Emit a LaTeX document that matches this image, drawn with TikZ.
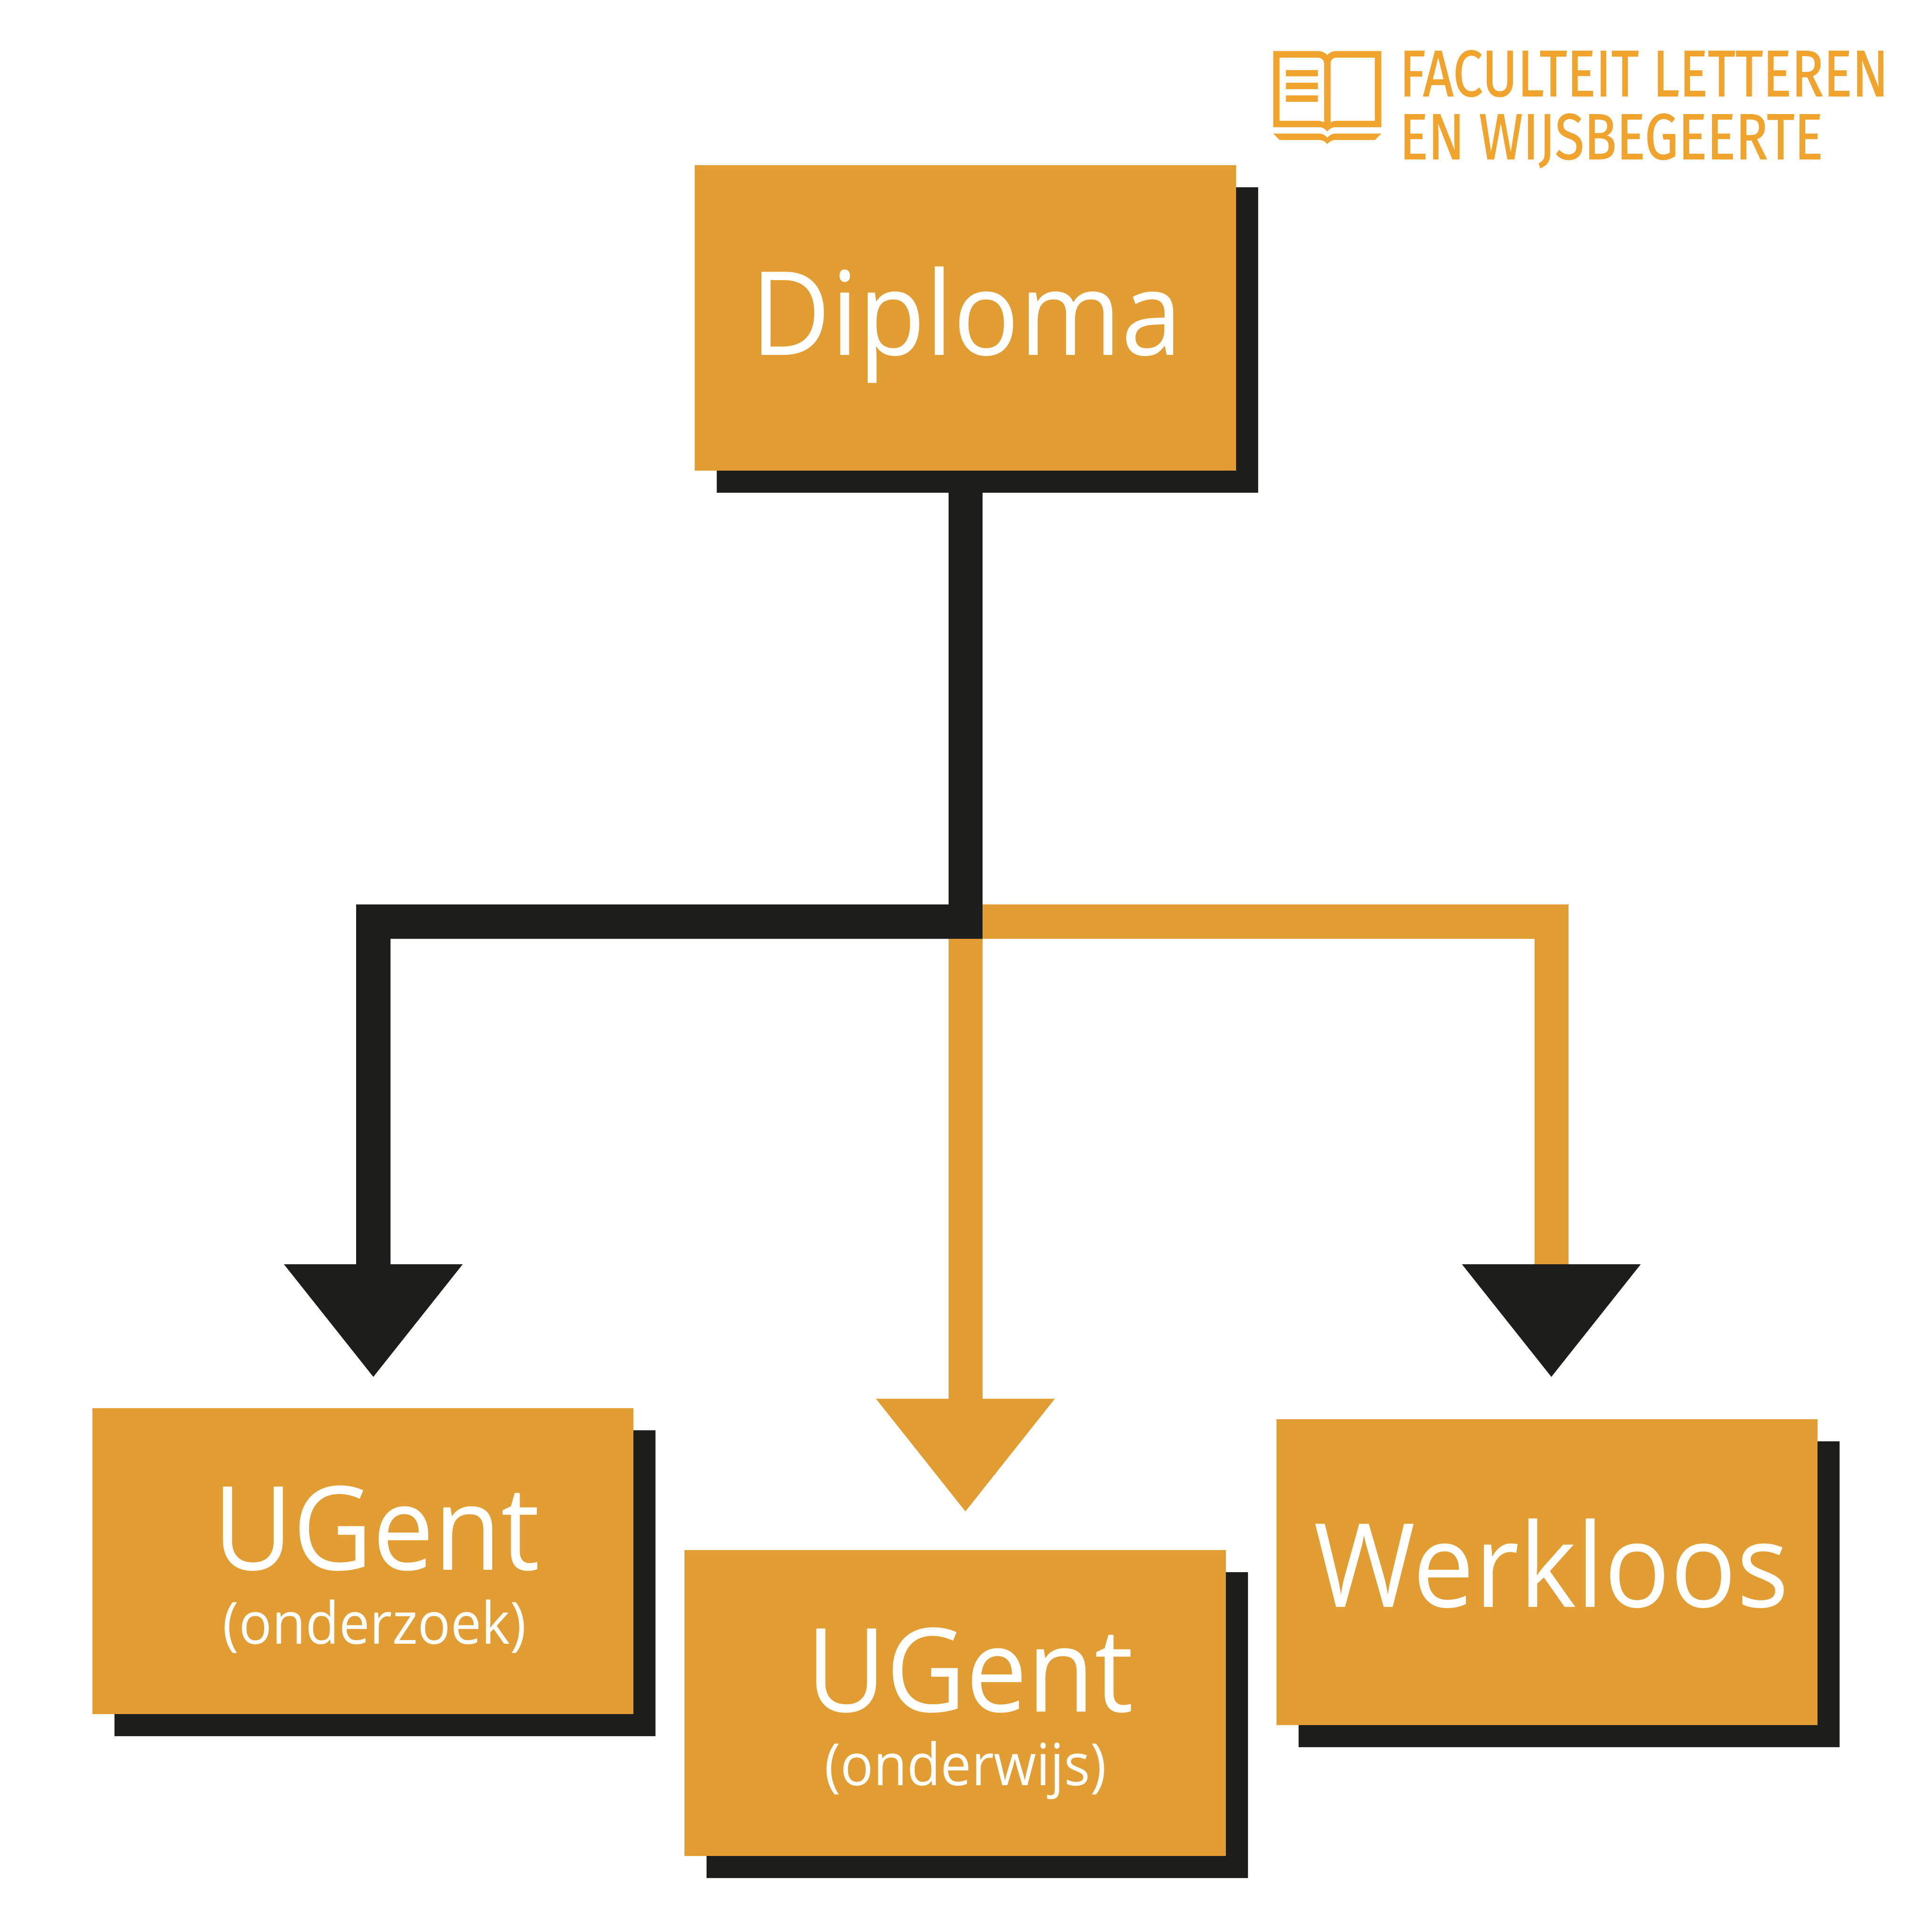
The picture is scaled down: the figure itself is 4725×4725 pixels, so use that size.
\documentclass[tikz,border=0pt]{standalone}
\usepackage{fontspec}
\usetikzlibrary{arrows.meta,shadows}
\setmainfont{Open Sans}
\newfontfamily\boxfont[FakeStretch=0.94]{Open Sans}
\newfontfamily\logofont[FakeBold=1]{Fira Sans}
\definecolor{boxorange}{HTML}{E29D32}
\definecolor{logoorange}{HTML}{F0A42D}
\definecolor{ink}{HTML}{1D1D1B}
\begin{document}
\begin{tikzpicture}[x=0.01cm,y=-0.01cm,
	box/.style={rectangle,fill=boxorange,inner sep=0pt,minimum width=13.23cm,minimum height=7.47cm,general shadow={shadow xshift=0.54cm,shadow yshift=-0.54cm,fill=ink}},
	big/.style={anchor=base,inner sep=0pt,text=white,font=\boxfont\fontsize{81}{81}\selectfont},
	small/.style={anchor=base,inner sep=0pt,text=white,font=\boxfont\fontsize{40.5}{40.5}\selectfont},
	logo/.style={anchor=base west,inner sep=0pt,text=logoorange},
	line/.style={line width=0.83cm},
	head/.style={-{Triangle[length=2.77cm,width=4.18cm,color=ink]}}]
	\useasboundingbox (0,0) rectangle (4725,4725);
	\node[box](diploma) at (2361,777.5){};
	\node[box](onderzoek) at (887.5,3818){};
	\node[box](onderwijs) at (2336,4165){};
	\node[box](werkloos) at (3783.5,3845){};
	\coordinate (split) at (2361,2254);
	\coordinate (tipA) at (913,3369);
	\coordinate (tipB) at (2361,3698);
	\coordinate (tipC) at (3794,3369);
	\draw[line,boxorange,head] (split)-|(tipC);
	\draw[line,boxorange,-{Triangle[length=2.77cm,width=4.18cm,color=boxorange]}] (split)--(tipB);
	\draw[line,ink,head] (diploma.south)--(split)-|(tipA);
	\node[big](diplomaText) at (2364,868){Diploma};
	\node[big](onderzoekText) at (921,3839){UGent};
	\node[small](onderzoekSub) at (916,4020){(onderzoek)};
	\node[big](onderwijsText) at (2372,4186){UGent};
	\node[small](onderwijsSub) at (2361,4366){(onderwijs)};
	\node[big](werkloosText) at (3794,3930){Werkloos};
	\fill[logoorange,even odd rule] (3114,125)--(3223.3,125)..controls(3233,125)and(3241,129)..(3246,135)..controls(3251,129)and(3258,125)..(3266.7,125)--(3378.3,125)--(3378.3,311)--(3266.7,311)..controls(3258,311)and(3251,315)..(3246,321.7)..controls(3241,315)and(3234,311)..(3226.7,311)--(3114,311)--cycle
		(3129.3,141)--(3223.3,141)..controls(3232,141)and(3238.3,147)..(3238.3,155)--(3238.3,299.3)..controls(3233,297)and(3228,295.3)..(3223.3,295.3)--(3129.3,295.3)--cycle
		(3362.3,141)--(3268.3,141)..controls(3260,141)and(3254,147)..(3254,155)--(3254,299.3)..controls(3259,297)and(3264,295.3)..(3268.3,295.3)--(3362.3,295.3)--cycle;
	\fill[logoorange] (3114,326.7)--(3226.7,326.7)..controls(3234,326.7)and(3241,331)..(3246,336.7)..controls(3251,331)and(3258,326.7)..(3265.7,326.7)--(3378.3,326.7)--(3362.3,342.3)--(3265.7,342.3)..controls(3258,342.3)and(3251,346)..(3246,352.3)..controls(3241,346)and(3234,342.3)..(3226.7,342.3)--(3129.3,342.3)--cycle;
	\fill[logoorange] (3144.7,171.3) rectangle (3223,186.7) (3144.7,202.3) rectangle (3223,218) (3144.7,233.3) rectangle (3223,249);
	\node[logo](logoA) at (3422,235){\resizebox{11.95cm}{1.12cm}{\logofont FACULTEIT LETTEREN}};
	\node[logo](logoB) at (3422,389){\resizebox{10.35cm}{1.11cm}{\logofont EN WIJSBEGEERTE}};
\end{tikzpicture}
\end{document}
